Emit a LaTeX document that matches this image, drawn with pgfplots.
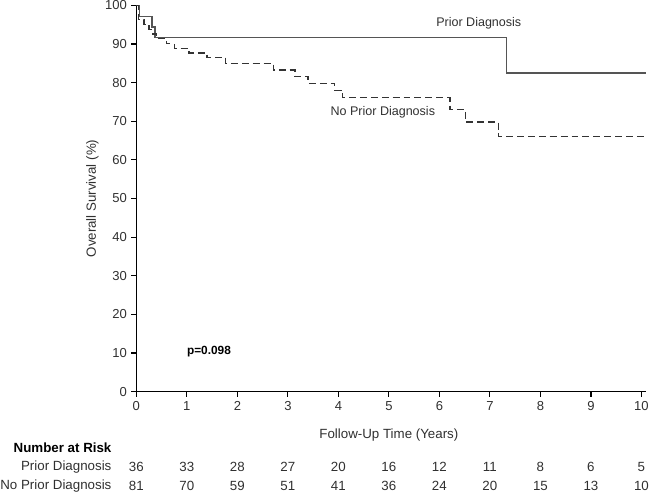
\documentclass[border=0pt]{standalone}
\usepackage{fontspec}
\setmainfont{Liberation Sans}
\usepackage{pgfplots}
\pgfplotsset{compat=1.18}

\definecolor{txt}{HTML}{303030}
\definecolor{solidc}{HTML}{555555}
\definecolor{dashc}{HTML}{333333}

\newcommand{\fbig}{\fontsize{13.5}{15}\selectfont}
\newcommand{\fmid}{\fontsize{12.7}{14}\selectfont}

\begin{document}
\fbig
\begin{tikzpicture}
\begin{axis}[
  x=51bp, y=3.9bp,
  xmin=0, xmax=10.1, ymin=0, ymax=100,
  axis lines=left,
  axis line style={-, line width=1.4bp, black},
  xtick={0,1,...,10}, ytick={0,10,...,100},
  tick align=outside, major tick length=5bp,
  tick style={line width=1.2bp, black},
  tick label style={font=\fontsize{13.2}{15}\selectfont, text=txt},
  /pgf/number format/assume math mode=true,
  clip=false,
]
\addplot[const plot, solidc, line width=1.3bp] coordinates {
  (0,100) (0.06,97.2) (0.31,94.4) (0.37,91.7) (7.33,82.5) (10.1,82.5)
};
\addplot[const plot, dashc, line width=1.3bp, dash pattern=on 7bp off 4bp] coordinates {
  (0,100) (0.04,96.3) (0.15,95.1) (0.25,93.8) (0.32,92.6) (0.40,91.4)
  (0.59,90.1) (0.75,88.9) (1.04,87.7) (1.40,86.6) (1.77,85.0)
  (2.71,83.3) (3.14,81.6) (3.40,79.8) (3.93,78.0) (4.08,76.1)
  (6.21,73.0) (6.52,69.8) (7.17,66.0) (10.1,66.0)
};

\node[text=txt, font=\fmid] at (axis cs:6.78,95.4) {Prior Diagnosis};
\node[text=txt, font=\fmid] at (axis cs:4.88,72.3) {No Prior Diagnosis};
\node[anchor=west, inner sep=0pt, font=\fontsize{12}{14}\selectfont\bfseries] at (axis cs:1.0,10.3) {p=0.098};

\node[rotate=90, text=txt] at (axis cs:-0.87,50) {Overall Survival (\%)};
\node[text=txt] at (axis cs:5,-11.3) {Follow-Up Time (Years)};

\node[anchor=east, inner sep=0pt, font=\fbig\bfseries] at (axis cs:-0.49,-14.6) {Number at Risk};
\node[anchor=east, inner sep=0pt, text=txt] at (axis cs:-0.49,-19.5) {Prior Diagnosis};
\node[anchor=east, inner sep=0pt, text=txt] at (axis cs:-0.49,-24.4) {No Prior Diagnosis};

% number at risk
\pgfplotsforeachungrouped \xx/\nr in {0/36,1/33,2/28,3/27,4/20,5/16,6/12,7/11,8/8,9/6,10/5}{
  \edef\tmp{\noexpand\node[text=txt] at (axis cs:\xx,-19.5) {\nr};}
  \tmp
}
\pgfplotsforeachungrouped \xx/\nr in {0/81,1/70,2/59,3/51,4/41,5/36,6/24,7/20,8/15,9/13,10/10}{
  \edef\tmp{\noexpand\node[text=txt] at (axis cs:\xx,-24.4) {\nr};}
  \tmp
}
\coordinate (bbA) at (axis cs:-2.70,-26.6);
\coordinate (bbB) at (axis cs:10.17,101.4);
\end{axis}
\pgfresetboundingbox
\useasboundingbox (bbA) rectangle (bbB);
\end{tikzpicture}
\end{document}
